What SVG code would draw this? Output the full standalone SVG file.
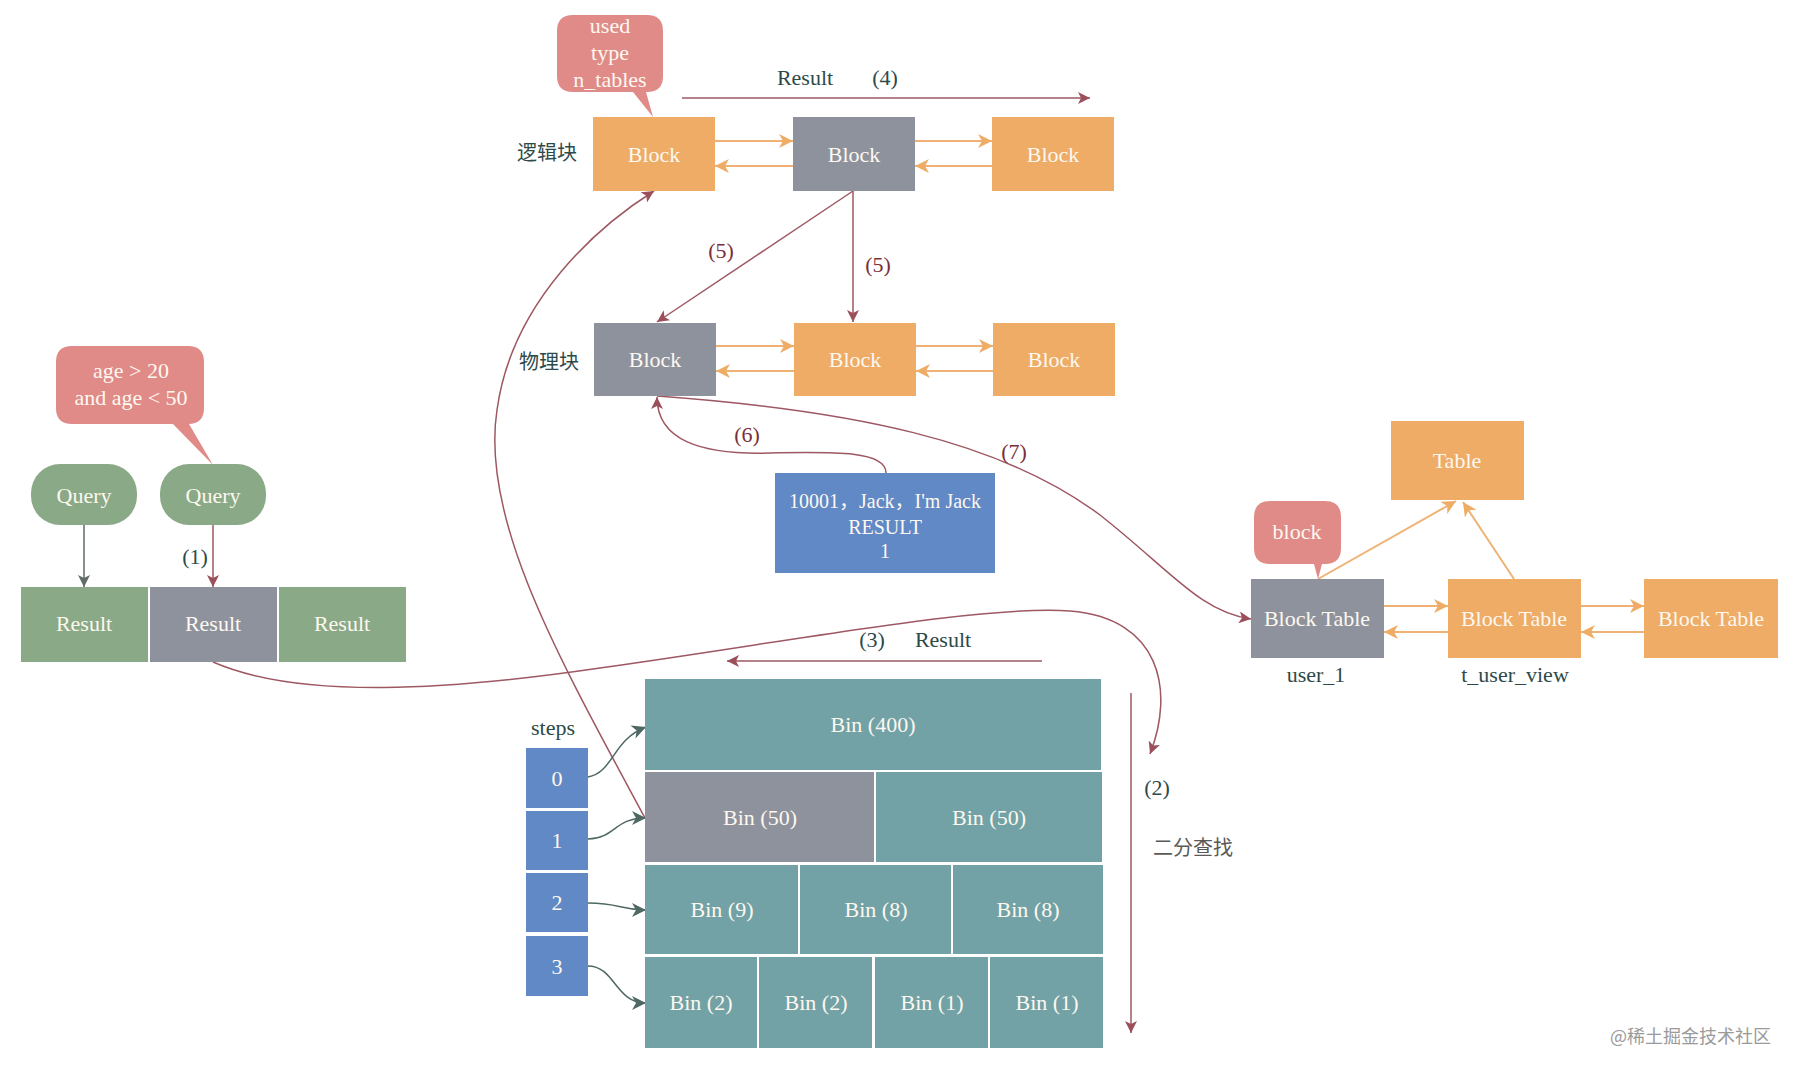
<svg xmlns="http://www.w3.org/2000/svg" width="1798" height="1074" viewBox="0 0 1798 1074">
<style>
  .t { font-family: "Liberation Serif", "Times New Roman", "Noto Sans CJK SC", serif; font-size: 22px; text-anchor: middle; }
  .w { fill: #fdf8f0; }
  .lbl { fill: #2d4a4a; }
  .red { fill: #7a2f37; }
  .cjk { font-family: "Noto Sans CJK SC", sans-serif; font-size: 20px; text-anchor: middle; fill: #2d4a4a; }
  .orange { fill: #eeac66; }
  .gray { fill: #8e929c; }
  .green { fill: #8aa986; }
  .teal { fill: #72a2a5; }
  .blue { fill: #6189c5; }
  .pink { fill: #e08b88; }
  .oarr { stroke: #f0b274; stroke-width: 2; fill: none; marker-end: url(#mo); }
  .marr { stroke: #9e5862; stroke-width: 1.5; fill: none; marker-end: url(#mm); }
  .sarr { stroke: #4e6864; stroke-width: 1.5; fill: none; marker-end: url(#ms); }
  .garr { stroke: #5f6b68; stroke-width: 1.5; fill: none; marker-end: url(#mg); }
</style>
<defs>
  <marker id="mo" markerUnits="userSpaceOnUse" markerWidth="16" markerHeight="14" refX="14" refY="7" orient="auto"><path d="M0,0 L14,7 L0,14 L4,7 Z" fill="#eeac66"/></marker>
  <marker id="mm" markerUnits="userSpaceOnUse" markerWidth="14" markerHeight="12" refX="12" refY="6" orient="auto"><path d="M0,0 L12,6 L0,12 L3,6 Z" fill="#9a4f5a"/></marker>
  <marker id="ms" markerUnits="userSpaceOnUse" markerWidth="16" markerHeight="14" refX="14" refY="7" orient="auto"><path d="M0,0 L14,7 L0,14 L4,7 Z" fill="#4e6864"/></marker>
  <marker id="mg" markerUnits="userSpaceOnUse" markerWidth="14" markerHeight="12" refX="12" refY="6" orient="auto"><path d="M0,0 L12,6 L0,12 L3,6 Z" fill="#5f6b68"/></marker>
</defs>
<rect width="1798" height="1074" fill="#ffffff"/>

<g id="connectors">
  <!-- logical block links -->
  <path class="oarr" d="M715,141 L793,141"/>
  <path class="oarr" d="M793,166 L715,166"/>
  <path class="oarr" d="M915,141 L992,141"/>
  <path class="oarr" d="M992,166 L915,166"/>
  <!-- physical block links -->
  <path class="oarr" d="M716,346 L794,346"/>
  <path class="oarr" d="M794,371 L716,371"/>
  <path class="oarr" d="M916,346 L993,346"/>
  <path class="oarr" d="M993,371 L916,371"/>
  <!-- block table links -->
  <path class="oarr" d="M1384,606 L1448,606"/>
  <path class="oarr" d="M1448,632 L1384,632"/>
  <path class="oarr" d="M1581,606 L1644,606"/>
  <path class="oarr" d="M1644,632 L1581,632"/>
  <path class="oarr" d="M1318,579 L1456,501"/>
  <path class="oarr" d="M1514,579 L1463,502"/>
  <!-- result (4) -->
  <path class="marr" d="M682,98 L1090,98"/>
  <!-- (5) -->
  <path class="marr" d="M853,191 L657,322"/>
  <path class="marr" d="M853,191 L853,322"/>
  <!-- (6) -->
  <path class="marr" d="M886,473 C886,450 830,452 770,453 C700,455 657,440 657,397"/>
  <!-- (7) -->
  <path class="marr" d="M657,396 C850,410 1000,440 1100,515 C1170,570 1200,612 1251,619"/>
  <!-- bin(50) to logical block -->
  <path class="marr" d="M645,818 C560,660 480,520 497,410 C512,300 600,225 654,191"/>
  <!-- (1) -->
  <path class="garr" d="M84,525 L84,587"/>
  <path class="marr" d="M213,525 L213,587"/>
  <!-- (3) curve -->
  <path class="marr" d="M213,662 C300,700 450,690 600,668 C800,640 980,605 1070,611 C1160,618 1175,690 1150,754"/>
  <!-- (3) result arrow -->
  <path class="marr" d="M1042,661 L727,661"/>
  <!-- (2) -->
  <path class="marr" d="M1131,693 L1131,1033"/>
  <!-- steps -->
  <path class="sarr" d="M588,777 C614,772 612,740 646,727"/>
  <path class="sarr" d="M588,839 C616,838 614,818 646,818"/>
  <path class="sarr" d="M588,903 C620,903 620,910 646,910"/>
  <path class="sarr" d="M588,966 C615,966 615,1003 646,1003"/>
</g>

<g id="bubble-used">
  <path class="pink" d="M573,15 H647 Q663,15 663,31 V76 Q663,92 647,92 H646 L653,117 L633,92 H573 Q557,92 557,76 V31 Q557,15 573,15 Z"/>
  <text class="t w" x="610" y="33">used</text>
  <text class="t w" x="610" y="60">type</text>
  <text class="t w" x="610" y="87">n_tables</text>
</g>

<g id="labels">
  <text class="t lbl" x="805" y="85">Result</text>
  <text class="t lbl" x="885" y="85">(4)</text>
  <text class="cjk" x="547" y="160">逻辑块</text>
  <text class="cjk" x="549" y="369">物理块</text>
  <text class="t red" x="721" y="258">(5)</text>
  <text class="t red" x="878" y="272">(5)</text>
  <text class="t red" x="747" y="442">(6)</text>
  <text class="t red" x="1014" y="459">(7)</text>
  <text class="t lbl" x="195" y="564">(1)</text>
  <text class="t lbl" x="872" y="647">(3)</text>
  <text class="t lbl" x="943" y="647">Result</text>
  <text class="t lbl" x="1157" y="795">(2)</text>
  <text class="cjk" x="1193" y="855" style="fill:#5a5a5a">二分查找</text>
  <text class="t lbl" x="553" y="735">steps</text>
  <text class="t lbl" x="1316" y="682">user_1</text>
  <text class="t lbl" x="1515" y="682">t_user_view</text>
  <text x="1610" y="1043" style="font-family:'Noto Sans CJK SC',sans-serif;font-size:18px;fill:#9a9a9a">@稀土掘金技术社区</text>
</g>

<g id="logic-block-1"><rect class="orange" x="593" y="117" width="122" height="74"/><text class="t w" x="654" y="162">Block</text></g>
<g id="logic-block-2"><rect class="gray" x="793" y="117" width="122" height="74"/><text class="t w" x="854" y="162">Block</text></g>
<g id="logic-block-3"><rect class="orange" x="992" y="117" width="122" height="74"/><text class="t w" x="1053" y="162">Block</text></g>

<g id="phys-block-1"><rect class="gray" x="594" y="323" width="122" height="73"/><text class="t w" x="655" y="367">Block</text></g>
<g id="phys-block-2"><rect class="orange" x="794" y="323" width="122" height="73"/><text class="t w" x="855" y="367">Block</text></g>
<g id="phys-block-3"><rect class="orange" x="993" y="323" width="122" height="73"/><text class="t w" x="1054" y="367">Block</text></g>

<g id="result-box"><rect class="blue" x="775" y="473" width="220" height="100"/>
  <text class="t w" x="885" y="508" style="font-size:20px">10001，Jack，I'm Jack</text>
  <text class="t w" x="885" y="534" style="font-size:20px">RESULT</text>
  <text class="t w" x="885" y="558" style="font-size:20px">1</text>
</g>

<g id="bubble-age">
  <path class="pink" d="M72,346 H188 Q204,346 204,362 V408 Q204,424 188,424 H189 L213,465 L173,424 H72 Q56,424 56,408 V362 Q56,346 72,346 Z"/>
  <text class="t w" x="131" y="378">age &gt; 20</text>
  <text class="t w" x="131" y="405">and age &lt; 50</text>
</g>
<g id="query-1"><rect class="green" x="31" y="464" width="106" height="61" rx="29"/><text class="t w" x="84" y="503">Query</text></g>
<g id="query-2"><rect class="green" x="160" y="464" width="106" height="61" rx="29"/><text class="t w" x="213" y="503">Query</text></g>
<g id="result-1"><rect class="green" x="21" y="587" width="127" height="75"/><text class="t w" x="84" y="631">Result</text></g>
<g id="result-2"><rect class="gray" x="150" y="587" width="127" height="75"/><text class="t w" x="213" y="631">Result</text></g>
<g id="result-3"><rect class="green" x="279" y="587" width="127" height="75"/><text class="t w" x="342" y="631">Result</text></g>

<g id="table"><rect class="orange" x="1391" y="421" width="133" height="79"/><text class="t w" x="1457" y="468">Table</text></g>
<g id="bubble-block">
  <path class="pink" d="M1270,501 H1325 Q1341,501 1341,517 V548 Q1341,564 1325,564 H1322 L1318,579 L1314,564 H1270 Q1254,564 1254,548 V517 Q1254,501 1270,501 Z"/>
  <text class="t w" x="1297" y="539">block</text>
</g>
<g id="block-table-1"><rect class="gray" x="1251" y="579" width="133" height="79"/><text class="t w" x="1317" y="626">Block Table</text></g>
<g id="block-table-2"><rect class="orange" x="1448" y="579" width="133" height="79"/><text class="t w" x="1514" y="626">Block Table</text></g>
<g id="block-table-3"><rect class="orange" x="1644" y="579" width="134" height="79"/><text class="t w" x="1711" y="626">Block Table</text></g>

<g id="step-0"><rect class="blue" x="526" y="748" width="62" height="60"/><text class="t w" x="557" y="786">0</text></g>
<g id="step-1"><rect class="blue" x="526" y="811" width="62" height="59"/><text class="t w" x="557" y="848">1</text></g>
<g id="step-2"><rect class="blue" x="526" y="873" width="62" height="59"/><text class="t w" x="557" y="910">2</text></g>
<g id="step-3"><rect class="blue" x="526" y="936" width="62" height="60"/><text class="t w" x="557" y="974">3</text></g>

<g id="bin-400"><rect class="teal" x="645" y="679" width="456" height="91"/><text class="t w" x="873" y="732">Bin (400)</text></g>
<g id="bin-50a"><rect class="gray" x="645" y="772" width="229" height="90"/><text class="t w" x="760" y="825">Bin (50)</text></g>
<g id="bin-50b"><rect class="teal" x="876" y="772" width="226" height="90"/><text class="t w" x="989" y="825">Bin (50)</text></g>
<g id="bin-9"><rect class="teal" x="645" y="865" width="153" height="89"/><text class="t w" x="722" y="917">Bin (9)</text></g>
<g id="bin-8a"><rect class="teal" x="800" y="865" width="151" height="89"/><text class="t w" x="876" y="917">Bin (8)</text></g>
<g id="bin-8b"><rect class="teal" x="953" y="865" width="150" height="89"/><text class="t w" x="1028" y="917">Bin (8)</text></g>
<g id="bin-2a"><rect class="teal" x="645" y="957" width="112" height="91"/><text class="t w" x="701" y="1010">Bin (2)</text></g>
<g id="bin-2b"><rect class="teal" x="759" y="957" width="113" height="91"/><text class="t w" x="816" y="1010">Bin (2)</text></g>
<g id="bin-1a"><rect class="teal" x="875" y="957" width="113" height="91"/><text class="t w" x="932" y="1010">Bin (1)</text></g>
<g id="bin-1b"><rect class="teal" x="990" y="957" width="113" height="91"/><text class="t w" x="1047" y="1010">Bin (1)</text></g>
</svg>
